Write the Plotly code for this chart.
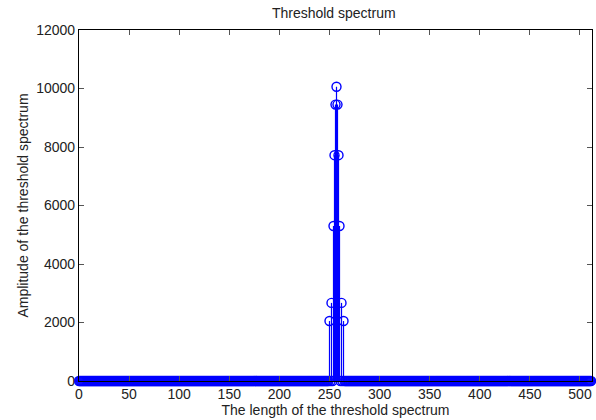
import plotly.graph_objects as go

# Data: threshold spectrum samples (index 0..511); nonzero only near the centre
n_samples = 512
peak_index = [250, 252, 254, 255, 256, 257, 258, 259, 260, 262, 264]
peak_value = [2050, 2670, 5300, 7720, 9450, 10060, 9450, 7720, 5300, 2670, 2050]

x_ticks = [0, 50, 100, 150, 200, 250, 300, 350, 400, 450, 500]
y_ticks = [0, 2000, 4000, 6000, 8000, 10000, 12000]

xs = list(range(n_samples))
ys = [0.0] * n_samples
for i, v in zip(peak_index, peak_value):
    ys[i] = v

# stems
sx, sy = [], []
for x, y in zip(xs, ys):
    if y != 0:
        sx += [x, x, None]
        sy += [0, y, None]

blue = "rgb(0,0,255)"
fig = go.Figure()
fig.add_trace(go.Scatter(x=sx, y=sy, mode="lines", line=dict(color=blue, width=1.2),
                         hoverinfo="skip", showlegend=False, cliponaxis=False))
fig.add_trace(go.Scatter(x=xs, y=ys, mode="markers",
                         marker=dict(symbol="circle-open", size=9, color=blue,
                                     line=dict(color=blue, width=1.4)),
                         showlegend=False, cliponaxis=False))

font = dict(family="Liberation Sans, Arial, sans-serif", size=14, color="#222222")
axis_common = dict(showline=True, linecolor="black", linewidth=1.2, mirror="ticks",
                   ticks="inside", ticklen=5, tickcolor="#555555", tickwidth=1,
                   showgrid=False, zeroline=False, layer="above traces",
                   tickfont=font)
fig.update_layout(
    width=596, height=420,
    margin=dict(l=79, r=4, t=30, b=39, autoexpand=False),
    paper_bgcolor="white", plot_bgcolor="white",
    font=font,
    title=dict(text="Threshold spectrum", x=0.56, xanchor="center", y=0.968, yanchor="middle",
               font=dict(family="Liberation Sans, Arial, sans-serif", size=14, color="#222222")),
    xaxis=dict(range=[0, 512], tickvals=x_ticks, ticktext=[str(t) for t in x_ticks],
               title=dict(text="The length of the threshold spectrum", standoff=2, font=font),
               automargin=False, **axis_common),
    yaxis=dict(range=[0, 12000], tickvals=y_ticks, ticktext=[str(t) for t in y_ticks],
               title=dict(text="Amplitude of the threshold spectrum", standoff=4, font=font),
               automargin=False, **axis_common),
)
fig.write_html("out.html", config={"displayModeBar": False},
               post_script="document.body.style.margin='0';document.body.style.padding='0';")
